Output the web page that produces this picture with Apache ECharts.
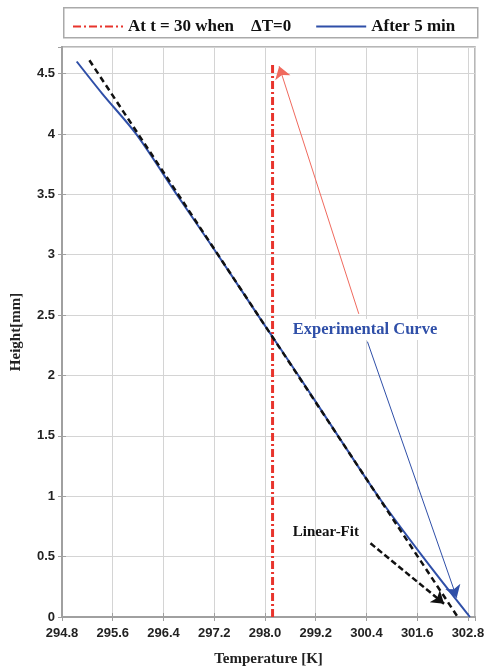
<!DOCTYPE html>
<html>
<head>
<meta charset="utf-8">
<script src="https://cdn.jsdelivr.net/npm/echarts@6/dist/echarts.min.js"></script>
<style>html,body{margin:0;padding:0;background:#fff}#c{width:486px;height:668px}</style>
</head>
<body>
<div id="c"></div>
<script>
// Tick labels (axis positions are equally spaced; labels as printed)
const xTickLabels = ['294.8','295.6','296.4','297.2','298.0','299.2','300.4','301.6','302.8'];
// Experimental curve "After 5 min" (x in tick-position units)
const blueX = [0.29, 0.80, 1.46, 2.26, 3.07, 3.86, 4.66, 5.44, 6.23, 7.11, 8.04];
const blueY = [4.60, 4.33, 4.00, 3.50, 3.00, 2.50, 2.00, 1.50, 1.00, 0.50, 0.00];
// Linear fit
const fitX = [0.54, 7.80];
const fitY = [4.61, 0.00];
// Reference line "At t = 30 when ΔT=0"
const refX = [4.15, 4.15];
const refY = [0.00, 4.59];
// Annotation arrows [from, to]
const arrowRed = [[5.85, 2.51], [4.28, 4.56]];
const arrowBlue = [[6.02, 2.28], [7.78, 0.16]];
const arrowFit = [[6.08, 0.61], [7.53, 0.11]];
// Annotation text anchors
const textExp = [4.55, 2.38];
const textFit = [4.55, 0.70];

const zip = (a, b) => a.map((v, i) => [v, b[i]]);
const chart = echarts.init(document.getElementById('c'));
const axisGray = '#a0a0a0';
const tickFont = {fontFamily: 'Liberation Sans', fontWeight: 'bold', fontSize: 13, color: '#222'};
chart.setOption({
  animation: false,
  backgroundColor: '#fff',
  graphic: [{
    type: 'rect', left: 63, top: 7, z: -1,
    shape: {width: 414, height: 30},
    style: {fill: '#fff', stroke: '#aaa', lineWidth: 1.5}
  }],
  legend: {
    left: 67, top: 13, itemWidth: 50, itemHeight: 14, itemGap: 24,
    itemStyle: {opacity: 0},
    data: ['At t = 30 when    ΔT=0', 'After 5 min'],
    textStyle: {fontFamily: 'Liberation Serif', fontWeight: 'bold', fontSize: 17, color: '#111'}
  },
  grid: {left: 62, right: 11, top: 47, bottom: 51, containLabel: false, outerBoundsMode: 'none',
         show: true, borderColor: axisGray, borderWidth: 1.5},
  xAxis: [{
    type: 'value', min: 0, max: 8.14, interval: 1,
    name: 'Temperature [K]', nameLocation: 'middle', nameGap: 35,
    nameTextStyle: {fontFamily: 'Liberation Serif', fontWeight: 'bold', fontSize: 15, color: '#222'},
    axisLine: {show: true, onZero: false, lineStyle: {color: axisGray, width: 2}},
    axisTick: {show: true, inside: true, length: 4, lineStyle: {color: axisGray}},
    axisLabel: Object.assign({margin: 10, showMaxLabel: false,
      formatter: v => (Math.abs(v - Math.round(v)) < 1e-6 ? (xTickLabels[Math.round(v)] || '') : '')}, tickFont),
    splitLine: {show: true, lineStyle: {color: '#d4d4d4', width: 1}}
  }, {
    type: 'value', position: 'top', min: 0, max: 8.14, interval: 1,
    axisLine: {show: true, lineStyle: {color: axisGray, width: 1.5}},
    axisTick: {show: true, inside: true, length: 4, lineStyle: {color: axisGray}},
    axisLabel: {show: false}, splitLine: {show: false}
  }],
  yAxis: [{
    type: 'value', min: 0, max: 4.72, interval: 0.5,
    name: 'Height[mm]', nameLocation: 'middle', nameGap: 38,
    nameTextStyle: {fontFamily: 'Liberation Serif', fontWeight: 'bold', fontSize: 15, color: '#222'},
    axisLine: {show: true, lineStyle: {color: axisGray, width: 2}},
    axisTick: {show: true, inside: true, length: 4, lineStyle: {color: axisGray}},
    axisLabel: Object.assign({margin: 7, showMaxLabel: false,
      formatter: v => (Math.abs(v * 2 - Math.round(v * 2)) < 1e-6 ? String(v) : '')}, tickFont),
    splitLine: {show: true, lineStyle: {color: '#d4d4d4', width: 1}}
  }, {
    type: 'value', position: 'right', min: 0, max: 4.72, interval: 0.5,
    axisLine: {show: true, lineStyle: {color: axisGray, width: 1.5}},
    axisTick: {show: true, inside: true, length: 4, lineStyle: {color: axisGray}},
    axisLabel: {show: false}, splitLine: {show: false}
  }],
  series: [
    {
      name: 'At t = 30 when    ΔT=0', type: 'line', symbol: 'none', data: zip(refX, refY),
      color: '#e8342c',
      lineStyle: {color: '#e8342c', width: 3, type: [8, 3, 2, 3]}, z: 3
    },
    {
      name: 'After 5 min', type: 'line', symbol: 'none', smooth: 0.3, data: zip(blueX, blueY),
      color: '#2f4fa8',
      lineStyle: {color: '#2f4fa8', width: 2}, z: 3
    },
    {
      name: 'Linear Fit', type: 'line', symbol: 'none', data: zip(fitX, fitY),
      lineStyle: {color: '#111', width: 2.5, type: [6, 4]}, z: 4
    },
    {
      type: 'lines', coordinateSystem: 'cartesian2d', symbol: ['none', 'arrow'], symbolSize: 12,
      data: [{coords: arrowRed}], lineStyle: {color: '#f06a5e', width: 1, opacity: 1}, z: 5
    },
    {
      type: 'lines', coordinateSystem: 'cartesian2d', symbol: ['none', 'arrow'], symbolSize: 12,
      data: [{coords: arrowBlue}], lineStyle: {color: '#2f4fa8', width: 1, opacity: 1}, z: 5
    },
    {
      type: 'lines', coordinateSystem: 'cartesian2d', symbol: ['none', 'arrow'], symbolSize: 12,
      data: [{coords: arrowFit}], lineStyle: {color: '#111', width: 2.5, type: [6, 3], opacity: 1}, z: 5
    },
    {
      type: 'scatter', symbolSize: 0, data: [textExp], z: 6, itemStyle: {opacity: 1},
      label: {show: true, position: 'right', distance: 0, formatter: 'Experimental Curve',
        fontFamily: 'Liberation Serif', fontWeight: 'bold', fontSize: 16.5, color: '#2f4fa8',
        backgroundColor: '#fff', padding: [2, 0, 2, 0]}
    },
    {
      type: 'scatter', symbolSize: 0, data: [textFit], z: 6, itemStyle: {opacity: 1},
      label: {show: true, position: 'right', distance: 0, formatter: 'Linear-Fit',
        fontFamily: 'Liberation Serif', fontWeight: 'bold', fontSize: 15, color: '#111'}
    }
  ]
});
</script>
</body>
</html>
